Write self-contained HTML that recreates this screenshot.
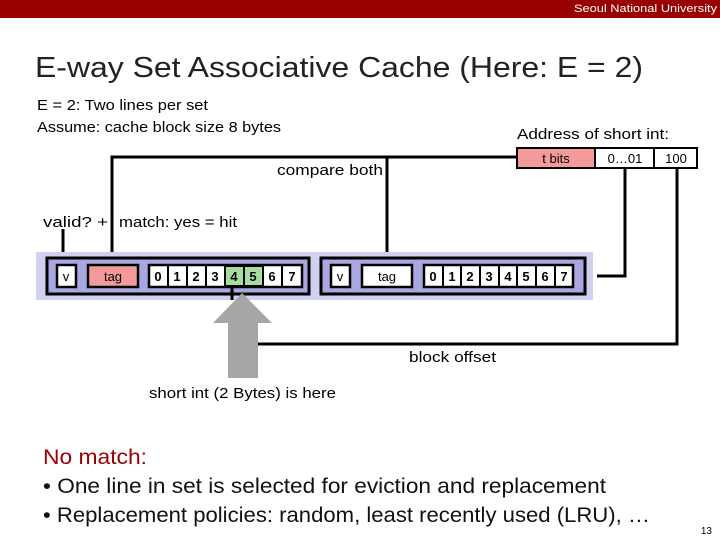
<!DOCTYPE html>
<html><head><meta charset="utf-8"><style>
html,body{margin:0;padding:0;background:#fff;}
svg{display:block;}
text{font-family:"Liberation Sans",sans-serif;}
</style></head><body>
<svg width="720" height="540" viewBox="0 0 720 540" xmlns="http://www.w3.org/2000/svg">
<rect x="0" y="0" width="720" height="18" fill="#990000"/>
<text x="717" y="12" font-size="11" fill="#fff" text-anchor="end" textLength="143" lengthAdjust="spacingAndGlyphs">Seoul National University</text>
<text x="35" y="77" font-size="29" fill="#222" textLength="608" lengthAdjust="spacingAndGlyphs">E-way Set Associative Cache (Here: E = 2)</text>
<text x="37" y="110" font-size="15" fill="#000" textLength="171" lengthAdjust="spacingAndGlyphs">E = 2: Two lines per set</text>
<text x="37" y="132" font-size="15" fill="#000" textLength="244" lengthAdjust="spacingAndGlyphs">Assume: cache block size 8 bytes</text>
<text x="517" y="139" font-size="15" fill="#000" textLength="152" lengthAdjust="spacingAndGlyphs">Address of short int:</text>
<!-- address -->
<rect x="517" y="148" width="78" height="20" fill="#f59a9a" stroke="#000" stroke-width="2"/>
<rect x="595" y="148" width="59" height="20" fill="#fff" stroke="#000" stroke-width="2"/>
<rect x="654" y="148" width="43" height="20" fill="#fff" stroke="#000" stroke-width="2"/>
<text x="556" y="163" font-size="13" text-anchor="middle">t bits</text>
<text x="625" y="163" font-size="13" text-anchor="middle">0…01</text>
<text x="676" y="163" font-size="13" text-anchor="middle">100</text>
<!-- lines -->
<g stroke="#000" stroke-width="3" fill="none">
<polyline points="517,157 112,157 112,265"/>
<line x1="387" y1="157" x2="387" y2="265"/>
<polyline points="625,168 625,276 597,276"/>
<polyline points="677,168 677,344 258,344"/>
<line x1="63" y1="229" x2="63" y2="265"/>
</g>
<text x="383" y="175" font-size="15" text-anchor="end" textLength="106" lengthAdjust="spacingAndGlyphs">compare both</text>
<text x="43" y="227" font-size="15" textLength="65" lengthAdjust="spacingAndGlyphs">valid?  +</text>
<text x="119" y="227" font-size="15" textLength="118" lengthAdjust="spacingAndGlyphs">match: yes = hit</text>
<!-- band -->
<rect x="36" y="252" width="557" height="48" fill="#d0d0f0"/>
<rect x="47" y="258" width="262" height="36" fill="#a8a8e0" stroke="#000" stroke-width="3"/>
<rect x="321" y="258" width="264" height="36" fill="#a8a8e0" stroke="#000" stroke-width="3"/>
<g stroke="#000" stroke-width="2.5">
<rect x="57" y="265" width="19" height="22" fill="#fff"/>
<rect x="88" y="265" width="50" height="22" fill="#f59a9a"/>
<rect x="331" y="265" width="19" height="22" fill="#fff"/>
<rect x="362" y="265" width="50" height="22" fill="#fff"/>
</g>
<g font-size="13" text-anchor="middle">
<text x="66" y="281">v</text><text x="113" y="281">tag</text>
<text x="340" y="281">v</text><text x="387" y="281">tag</text>
</g>
<g stroke="#000" stroke-width="2.5" font-size="13" text-anchor="middle">
<rect x="149" y="265" width="153" height="22" fill="#fff"/>
<rect x="424" y="265" width="149" height="22" fill="#fff"/>
</g>
<g stroke="#000" stroke-width="2">
<rect x="225" y="266" width="19" height="20" fill="#a8dca0"/>
<rect x="244" y="266" width="19" height="20" fill="#a8dca0"/>
<line x1="168" y1="265" x2="168" y2="287"/><line x1="187" y1="265" x2="187" y2="287"/><line x1="206" y1="265" x2="206" y2="287"/><line x1="225" y1="265" x2="225" y2="287"/><line x1="244" y1="265" x2="244" y2="287"/><line x1="263" y1="265" x2="263" y2="287"/><line x1="282" y1="265" x2="282" y2="287"/>
<line x1="443" y1="265" x2="443" y2="287"/><line x1="461" y1="265" x2="461" y2="287"/><line x1="480" y1="265" x2="480" y2="287"/><line x1="499" y1="265" x2="499" y2="287"/><line x1="517" y1="265" x2="517" y2="287"/><line x1="536" y1="265" x2="536" y2="287"/><line x1="555" y1="265" x2="555" y2="287"/>
</g>
<g font-size="13" text-anchor="middle" font-weight="bold">
<text x="158" y="281">0</text><text x="177" y="281">1</text><text x="196" y="281">2</text><text x="215" y="281">3</text><text x="234" y="281">4</text><text x="253" y="281">5</text><text x="272" y="281">6</text><text x="292" y="281">7</text>
<text x="433" y="281">0</text><text x="452" y="281">1</text><text x="470" y="281">2</text><text x="489" y="281">3</text><text x="508" y="281">4</text><text x="526" y="281">5</text><text x="545" y="281">6</text><text x="564" y="281">7</text>
</g>
<line x1="232" y1="287" x2="232" y2="300" stroke="#000" stroke-width="3"/>
<polygon points="242,293 272,323 258,323 258,378 228,378 228,323 213,323" fill="#a6a6a6"/>
<text x="409" y="362" font-size="15" textLength="87" lengthAdjust="spacingAndGlyphs">block offset</text>
<text x="149" y="398" font-size="15" textLength="187" lengthAdjust="spacingAndGlyphs">short int (2 Bytes) is here</text>
<text x="43" y="464" font-size="21" fill="#990000" textLength="104" lengthAdjust="spacingAndGlyphs">No match:</text>
<text x="43" y="493" font-size="21" fill="#111" textLength="563" lengthAdjust="spacingAndGlyphs">• One line in set is selected for eviction and replacement</text>
<text x="43" y="522" font-size="21" fill="#111" textLength="607" lengthAdjust="spacingAndGlyphs">• Replacement policies: random, least recently used (LRU), …</text>
<text x="712" y="534" font-size="10" text-anchor="end">13</text>
</svg>
</body></html>
